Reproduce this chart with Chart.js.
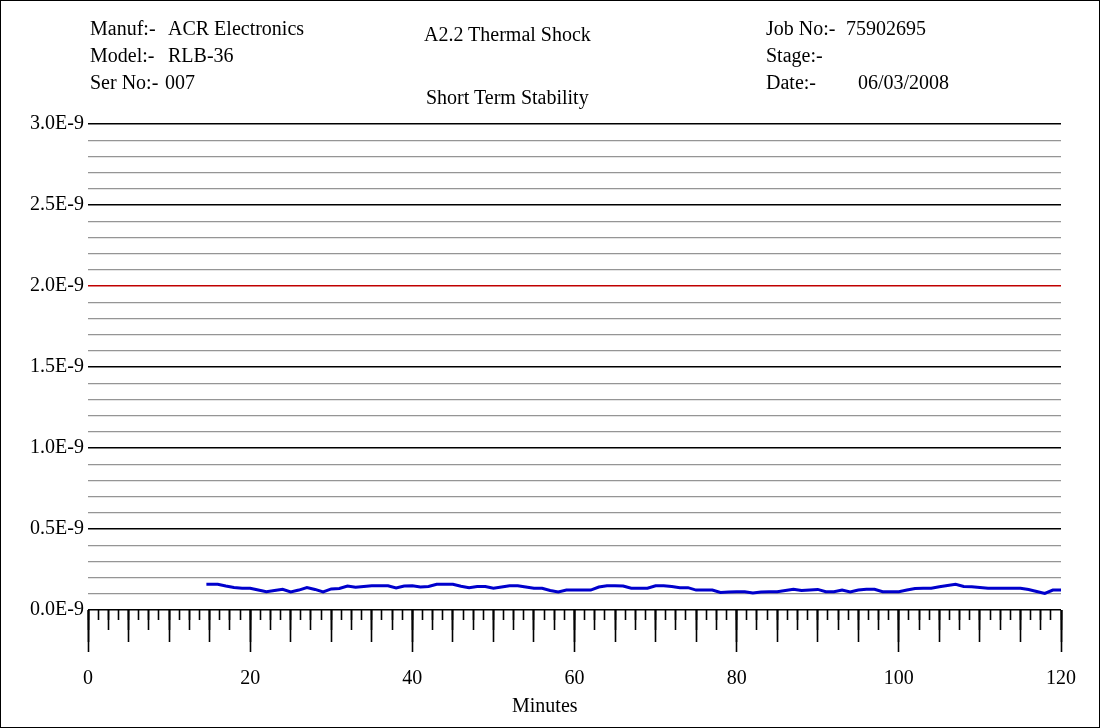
<!DOCTYPE html>
<html lang="en">
<head>
  <meta charset="UTF-8" />
  <title>A2.2 Thermal Shock</title>
  <script src="https://cdn.jsdelivr.net/npm/chart.js"></script>
  <style>
    html, body {
      margin: 0;
      padding: 0;
      background: white;
    }

    .page {
      position: relative;
      width: 1100px;
      height: 728px;
      font-family: "Liberation Serif", "Times New Roman", serif;
      color: #000;
    }

    .frame {
      position: absolute;
      left: 0;
      top: 0;
      width: 1100px;
      height: 728px;
      box-sizing: border-box;
      border: 1px solid #000;
      pointer-events: none;
    }

    .lbl {
      position: absolute;
      font-size: 20px;
      line-height: 22px;
      white-space: nowrap;
    }

    canvas {
      position: absolute;
      left: 0;
      top: 0;
    }
  </style>
</head>
<body>
  <div class="page">
    <canvas id="stabilityChart" width="1100" height="728"></canvas>

    <!-- header block -->
    <div class="lbl" style="left:90px; top:17px">Manuf:-</div>
    <div class="lbl" style="left:168px; top:17px">ACR Electronics</div>
    <div class="lbl" style="left:90px; top:44px">Model:-</div>
    <div class="lbl" style="left:168px; top:44px">RLB-36</div>
    <div class="lbl" style="left:90px; top:71px">Ser No:-</div>
    <div class="lbl" style="left:165px; top:71px">007</div>

    <div class="lbl" style="left:424px; top:23px">A2.2 Thermal Shock</div>
    <div class="lbl" style="left:426px; top:86px">Short Term Stability</div>

    <div class="lbl" style="left:766px; top:17px">Job No:-</div>
    <div class="lbl" style="left:846px; top:17px">75902695</div>
    <div class="lbl" style="left:766px; top:44px">Stage:-</div>
    <div class="lbl" style="left:766px; top:71px">Date:-</div>
    <div class="lbl" style="left:858px; top:71px">06/03/2008</div>

    <!-- x axis title -->
    <div class="lbl" style="left:512px; top:694px">Minutes</div>

    <div class="frame"></div>
  </div>

  <script>
    // sample times (minutes) and short term stability (units of 1E-9)
    const minutes = [
      14.6, 15, 16, 17, 18, 19, 20, 21, 22, 23, 24,
      25, 26, 27, 28, 29, 30, 31, 32, 33, 34,
      35, 36, 37, 38, 39, 40, 41, 42, 43, 44,
      45, 46, 47, 48, 49, 50, 51, 52, 53, 54,
      55, 56, 57, 58, 59, 60, 61, 62, 63, 64,
      65, 66, 67, 68, 69, 70, 71, 72, 73, 74,
      75, 76, 77, 78, 79, 80, 81, 82, 83, 84,
      85, 86, 87, 88, 89, 90, 91, 92, 93, 94,
      95, 96, 97, 98, 99, 100, 101, 102, 103, 104,
      105, 106, 107, 108, 109, 110, 111, 112, 113, 114,
      115, 116, 117, 118, 119, 120, 120.8
    ];
    const stabilityE9 = [
      0.159, 0.159, 0.159, 0.148, 0.139, 0.134, 0.134, 0.123, 0.113, 0.120, 0.128,
      0.111, 0.123, 0.139, 0.127, 0.111, 0.130, 0.133, 0.148, 0.140, 0.145,
      0.150, 0.150, 0.150, 0.136, 0.148, 0.150, 0.142, 0.145, 0.159, 0.159,
      0.159, 0.147, 0.138, 0.145, 0.145, 0.134, 0.142, 0.150, 0.150, 0.142,
      0.134, 0.134, 0.120, 0.111, 0.123, 0.123, 0.123, 0.123, 0.142, 0.150,
      0.150, 0.148, 0.134, 0.134, 0.134, 0.150, 0.150, 0.145, 0.138, 0.138,
      0.123, 0.123, 0.123, 0.108, 0.111, 0.113, 0.113, 0.105, 0.111, 0.113,
      0.113, 0.120, 0.128, 0.120, 0.123, 0.127, 0.113, 0.113, 0.123, 0.111,
      0.123, 0.128, 0.128, 0.113, 0.113, 0.113, 0.123, 0.133, 0.134, 0.134,
      0.144, 0.151, 0.159, 0.145, 0.144, 0.139, 0.134, 0.134, 0.134, 0.134,
      0.134, 0.127, 0.114, 0.102, 0.123, 0.123, 0.123
    ];

    const yMin = 0, yMax = 3, yStep = 0.1;     // 0.0E-9 .. 3.0E-9
    const limitE9 = 2.0;                       // red limit line
    const xMin = 0, xMax = 120;
    const xLabelStep = 20;
    // tick marks below the axis: [step, length]
    const tickLevels = [[5, 32], [2.5, 20], [1.25, 10]];

    const serif = "'Liberation Serif', 'Times New Roman', serif";

    function gridColor(ctx) {
      const k = Math.round(ctx.tick.value * 10);
      if (Math.abs(ctx.tick.value - limitE9) < 1e-6) return '#c00000';
      return k % 5 === 0 ? '#000' : '#959595';
    }

    function gridWidth(ctx) {
      const k = Math.round(ctx.tick.value * 10);
      return k % 5 === 0 ? 1.5 : 1.2;
    }

    const scales = {
      x: {
        type: 'linear',
        min: xMin,
        max: xMax,
        afterFit: s => { s.height = 118; },
        border: { display: false },
        grid: {
          drawOnChartArea: false,
          drawTicks: true,
          tickLength: 42,
          tickColor: '#000',
          tickWidth: 1.6
        },
        ticks: {
          stepSize: xLabelStep,
          padding: 15,
          color: '#000',
          font: { family: serif, size: 20 },
          maxRotation: 0
        }
      },
      y: {
        type: 'linear',
        min: yMin,
        max: yMax,
        afterFit: s => { s.width = 88; },
        border: { display: false },
        grid: {
          color: gridColor,
          lineWidth: gridWidth,
          drawTicks: false
        },
        ticks: {
          stepSize: yStep,
          padding: 4,
          color: '#000',
          autoSkip: false,
          font: { family: serif, size: 20 },
          callback: v => (Math.round(v * 10) % 5 === 0 ? v.toFixed(1) + 'E-9' : '')
        }
      }
    };

    // extra tick rows hanging off the zero line
    tickLevels.forEach(([step, len], i) => {
      scales['xt' + i] = {
        type: 'linear',
        axis: 'x',
        position: { y: 0 },
        min: xMin,
        max: xMax,
        border: { display: false },
        grid: {
          drawOnChartArea: false,
          drawTicks: true,
          tickLength: len,
          tickColor: '#000',
          tickWidth: 1.6
        },
        ticks: { stepSize: step, display: false, autoSkip: false }
      };
    });

    new Chart('stabilityChart', {
      type: 'line',
      data: {
        datasets: [{
          label: 'Short Term Stability',
          data: minutes.map((m, i) => ({ x: m, y: stabilityE9[i] })),
          borderColor: '#0000cc',
          borderWidth: 3,
          pointRadius: 0,
          tension: 0,
          clip: false,
          xAxisID: 'x',
          yAxisID: 'y'
        }]
      },
      options: {
        responsive: false,
        animation: false,
        layout: { padding: { top: 124, left: 0, right: 39, bottom: 0 } },
        plugins: {
          legend: { display: false },
          tooltip: { enabled: false }
        },
        scales: scales
      }
    });
  </script>
</body>
</html>
